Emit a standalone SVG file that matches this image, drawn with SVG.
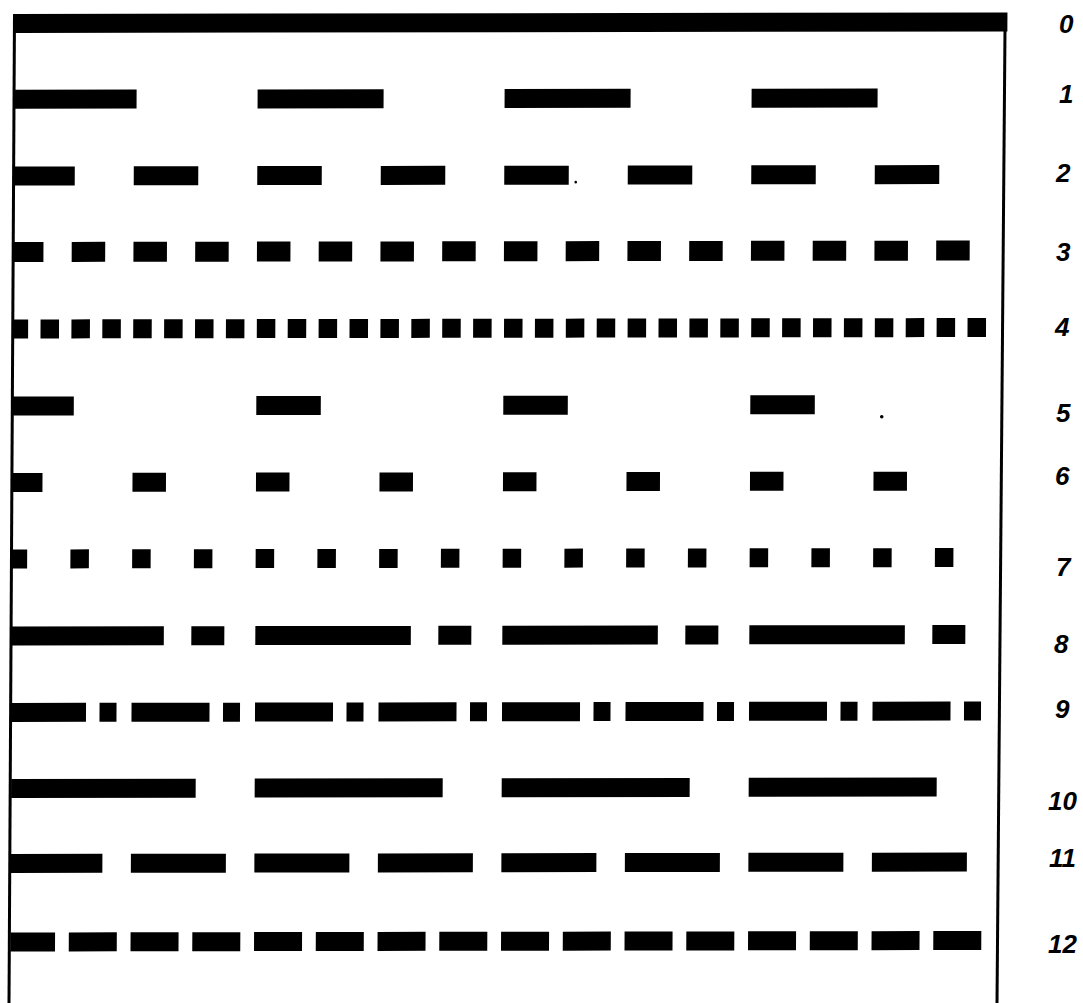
<svg xmlns="http://www.w3.org/2000/svg" width="1083" height="1003" viewBox="0 0 1083 1003">
  <style>
    .bg { fill: #ffffff; }
    .border { stroke: #000; stroke-width: 3; fill: none; }
    .row { stroke: #000; stroke-width: 19; fill: none; stroke-dashoffset: 3.5; }
    .speck { fill: #000; }
    .lbl { font-family: "Liberation Sans", Arial, sans-serif; font-style: italic; font-weight: bold; font-size: 26px; fill: #000; }
  </style>
  <rect class="bg" x="0" y="0" width="1083" height="1003"/>
  <g id="frame">
    <line class="border" x1="14.5" y1="14" x2="9" y2="1003"/>
    <line class="border" x1="1005" y1="30" x2="997" y2="1003"/>
  </g>
  <g id="rows" transform="matrix(1,-0.0015,-0.0042,1,0.5,0)">
    <line id="row0" x1="14" y1="23.5" x2="1007" y2="23.5" stroke="#000" stroke-width="19"/>
    <line id="row1" class="row" x1="14" y1="99.3" x2="990" y2="99.3" stroke-dasharray="126 121"/>
    <line id="row2" class="row" x1="14" y1="176" x2="990" y2="176" stroke-dasharray="64.5 59"/>
    <line id="row3" class="row" x1="14" y1="252" x2="990" y2="252" stroke-dasharray="33.5 28.25" style="stroke-width:20"/>
    <line id="row4" class="row" x1="14" y1="329" x2="990" y2="329" stroke-dasharray="18.5 12.4"/>
    <line id="row5" class="row" x1="14" y1="406" x2="990" y2="406" stroke-dasharray="64.5 182.5"/>
    <line id="row6" class="row" x1="14" y1="482.5" x2="990" y2="482.5" stroke-dasharray="33.5 90"/>
    <line id="row7" class="row" x1="14" y1="559" x2="990" y2="559" stroke-dasharray="18.5 43.25"/>
    <line id="row8" class="row" x1="14" y1="636" x2="990" y2="636" stroke-dasharray="155.5 27.5 33 31"/>
    <line id="row9" class="row" x1="14" y1="712.5" x2="990" y2="712.5" stroke-dasharray="78 13.5 17 15"/>
    <line id="row10" class="row" x1="14" y1="788.5" x2="990" y2="788.5" stroke-dasharray="188 59"/>
    <line id="row11" class="row" x1="14" y1="863.5" x2="990" y2="863.5" stroke-dasharray="95 28.5"/>
    <line id="row12" class="row" x1="14" y1="942" x2="990" y2="942" stroke-dasharray="48 13.75"/>
    <circle class="speck" cx="576" cy="183" r="1.3"/>
    <circle class="speck" cx="883" cy="418" r="1.8"/>
  </g>
  <g id="labels">
    <text class="lbl" x="1059" y="33">0</text>
    <text class="lbl" x="1059" y="103">1</text>
    <text class="lbl" x="1056" y="182">2</text>
    <text class="lbl" x="1056" y="261">3</text>
    <text class="lbl" x="1055" y="336">4</text>
    <text class="lbl" x="1056" y="422">5</text>
    <text class="lbl" x="1055" y="485">6</text>
    <text class="lbl" x="1056" y="576">7</text>
    <text class="lbl" x="1054" y="653">8</text>
    <text class="lbl" x="1055" y="718">9</text>
    <text class="lbl" x="1048" y="810">10</text>
    <text class="lbl" x="1049" y="867">11</text>
    <text class="lbl" x="1048" y="953">12</text>
  </g>
</svg>
